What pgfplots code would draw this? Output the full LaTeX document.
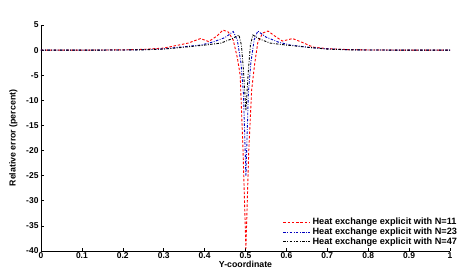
\documentclass[border=0pt]{standalone}
\usepackage{fontspec}
\setmainfont{Liberation Sans}
\usepackage{pgfplots}
\pgfplotsset{compat=1.18}
\begin{document}
\begin{tikzpicture}
\path[use as bounding box] (-41bp,-22bp) rectangle (423bp,251bp);
\begin{axis}[
  at={(0,0)}, anchor=south west,
  scale only axis, width=409bp, height=226bp,
  xmin=0, xmax=1, ymin=-40, ymax=5,
  axis x line=bottom, axis y line=left,
  axis line style={-, line width=0.8pt},
  xtick={0,0.1,...,1}, ytick={-40,-35,...,5},
  xticklabels={0,0.1,0.2,0.3,0.4,0.5,0.6,0.7,0.8,0.9,1},
  tick align=inside, major tick length=3bp,
  tick style={line width=0.6pt, black},
  /pgf/number format/assume math mode=true,
  ticklabel style={font=\fontsize{8.5}{10}\selectfont\bfseries},
  xticklabel style={yshift=2bp},
  yticklabel style={xshift=1bp},
  xlabel={Y-coordinate}, ylabel={Relative error (percent)},
  label style={font=\fontsize{8.8}{10}\selectfont\bfseries},
  xlabel style={yshift=4.5bp},
  ylabel style={yshift=2bp},
  clip=false,
  legend style={draw=none, fill=none, font=\fontsize{9.2}{10}\selectfont\bfseries,
    at={(1.025,0.01)}, anchor=south east, row sep=-2.6pt, inner sep=1pt},
  legend cell align=left,
  legend image code/.code={\draw[#1] (0cm,0cm) -- (0.95cm,0cm);},
]
\addplot[red, line width=0.9pt, dash pattern=on 2.5pt off 1.8pt] coordinates {
(0,0) (0.1,0) (0.2,0.05) (0.25,0.15) (0.3,0.4) (0.33,0.9) (0.36,1.4) (0.39,2.3)
(0.41,1.7) (0.43,2.8) (0.445,4.0) (0.458,3.6) (0.47,2.0) (0.48,-1.5) (0.487,-5)
(0.494,-20) (0.501,-39.5) (0.508,-20) (0.515,-8) (0.522,-3) (0.53,1.5) (0.542,3.4)
(0.555,3.8) (0.57,2.9) (0.59,1.8) (0.615,2.3) (0.64,1.5) (0.665,0.6) (0.7,0.3)
(0.75,0.1) (0.8,0.03) (0.9,0) (1,0)};
\addlegendentry{Heat exchange explicit with N=11}
\addplot[blue!75!black, line width=0.9pt, dash pattern=on 2.5pt off 1.5pt on 0.8pt off 1.5pt] coordinates {
(0,0) (0.1,0) (0.2,0.02) (0.25,0.08) (0.3,0.25) (0.34,0.6) (0.39,1.0) (0.42,1.6)
(0.45,2.5) (0.47,3.7) (0.48,2.0) (0.489,-2.6) (0.495,-8.6) (0.501,-25) (0.507,-8.6)
(0.513,-2.6) (0.521,2.0) (0.53,3.8) (0.55,2.6) (0.58,1.6) (0.61,1.0) (0.66,0.5)
(0.7,0.25) (0.75,0.08) (0.8,0.02) (0.9,0) (1,0)};
\addlegendentry{Heat exchange explicit with N=23}
\addplot[black, line width=0.9pt, dash pattern=on 2.5pt off 1.5pt on 0.8pt off 1.5pt] coordinates {
(0,0) (0.1,0) (0.2,0.02) (0.25,0.06) (0.3,0.2) (0.34,0.5) (0.4,1.0) (0.44,1.4)
(0.465,2.2) (0.484,3.0) (0.49,1.0) (0.495,-4) (0.501,-12) (0.507,-4) (0.512,1.0)
(0.518,3.0) (0.535,2.2) (0.56,1.4) (0.6,1.0) (0.66,0.5) (0.7,0.2) (0.75,0.06)
(0.8,0.02) (0.9,0) (1,0)};
\addlegendentry{Heat exchange explicit with N=47}
\end{axis}
\end{tikzpicture}
\end{document}
